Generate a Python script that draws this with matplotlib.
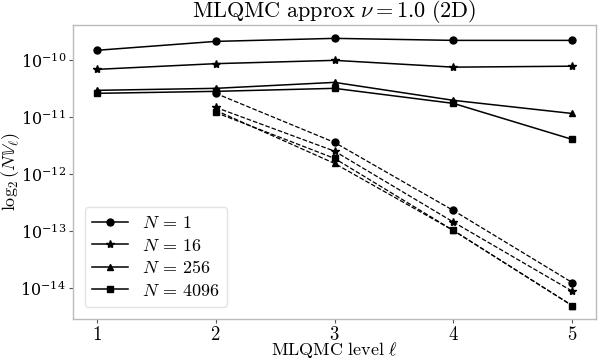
import matplotlib
matplotlib.use("Agg")
import matplotlib.pyplot as plt
from matplotlib.ticker import NullLocator

plt.rcParams['mathtext.fontset'] = 'cm'
plt.rcParams['font.family'] = ['DejaVu Serif']

levels_solid = [1, 2, 3, 4, 5]
levels_dashed = [2, 3, 4, 5]
labels = [r'$N\,=\,1$', r'$N\,=\,16$', r'$N\,=\,256$', r'$N\,=\,4096$']
markers = ['o', '*', '^', 's']

solid_vals = [
    [1.50e-10, 2.15e-10, 2.43e-10, 2.24e-10, 2.24e-10],
    [6.95e-11, 8.75e-11, 1.00e-10, 7.60e-11, 7.90e-11],
    [2.98e-11, 3.23e-11, 4.11e-11, 1.99e-11, 1.17e-11],
    [2.64e-11, 2.86e-11, 3.23e-11, 1.76e-11, 4.11e-12],
]
dashed_vals = [
    [2.64e-11, 3.64e-12, 2.33e-13, 1.27e-14],
    [1.50e-11, 2.56e-12, 1.46e-13, 8.97e-15],
    [1.33e-11, 1.56e-12, 1.04e-13, 5.00e-15],
    [1.22e-11, 1.91e-12, 1.04e-13, 5.00e-15],
]

fig = plt.figure(figsize=(5.98, 3.6), dpi=100)
ax = fig.add_axes([73/598, 1 - 319/360, (596-73)/598, (319-25)/360])

for lab, m, sv, dv in zip(labels, markers, solid_vals, dashed_vals):
    ms = 6 if m == '*' else 5
    ax.plot(levels_solid, sv, color='k', lw=1.1, marker=m, ms=ms, label=lab)
    ax.plot(levels_dashed, dv, color='k', lw=0.9, ls='--', marker=m, ms=ms)

ax.set_yscale('log')
ax.yaxis.set_minor_locator(NullLocator())
ax.set_xticks([1, 2, 3, 4, 5])
ax.set_xticklabels([r'$1$', r'$2$', r'$3$', r'$4$', r'$5$'])
ax.tick_params(axis='x', labelsize=13.5, length=3, width=0.8, color='#555555', pad=2)
ax.tick_params(axis='y', labelsize=11.5, length=3, width=0.8, color='#555555', pad=2)
for s in ax.spines.values():
    s.set_color('#bbbbbb')
    s.set_linewidth(1.0)

ax.set_title(r'$\mathrm{MLQMC\ approx}\ \nu=1.0\ \mathrm{(2D)}$', fontsize=16, pad=4)
ax.set_xlabel(r'$\mathrm{MLQMC\ level}\ \ell$', fontsize=13, labelpad=-3)
ax.set_ylabel(r'$\log_2(N\mathbb{V}_\ell)$', fontsize=13)
ax.yaxis.set_label_coords(-0.098, 0.5)

leg = ax.legend(loc='lower left', fontsize=13, frameon=True, fancybox=True,
                handlelength=2.0, borderpad=0.4, labelspacing=0.25,
                bbox_to_anchor=(0.005, 0.01))
leg.get_frame().set_edgecolor('#dddddd')

fig.savefig('out.png', dpi=100)
